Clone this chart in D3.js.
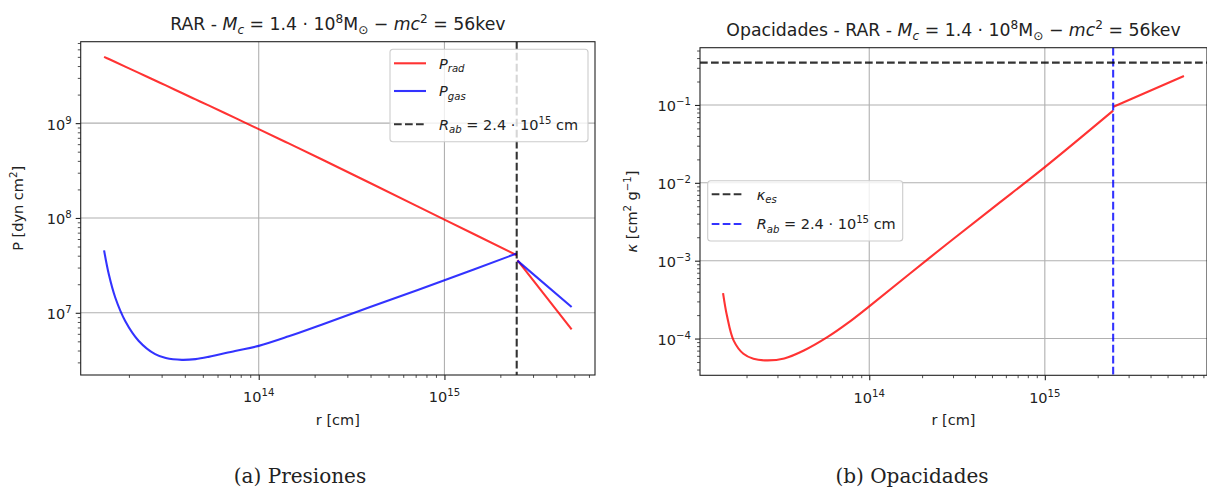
<!DOCTYPE html>
<html>
<head>
<meta charset="utf-8">
<script src="https://cdn.jsdelivr.net/npm/d3@7"></script>
<style>
  body { margin: 0; background: #fff; }
  svg { display: block; font-family: "DejaVu Sans", sans-serif; }
  text { white-space: pre; fill: #222; }
</style>
</head>
<body>
<svg id="fig" width="1207" height="494"></svg>
<script>
// --- datos ---
// radio [cm] para las presiones
const rPres = [1.47e13, 1.56e13, 1.69e13, 1.91e13, 2.26e13, 2.77e13, 3.16e13, 3.86e13, 4.57e13,
               5.37e13, 7.46e13, 1e14, 1.45e14, 2.18e14, 3.98e14, 1e15, 2.45e15, 2.47e15, 4.84e15];
const pRad  = [5.0e9, 4.74e9, 4.41e9, 3.94e9, 3.39e9, 2.82e9, 2.5e9, 2.08e9, 1.78e9,
               1.54e9, 1.135e9, 8.65e8, 6.11e8, 4.16e8, 2.34e8, 9.6e7, 4.05e7, 3.6e7, 6.7e6];
const pGas  = [4.55e7, 2.53e7, 1.44e7, 8.2e6, 5.05e6, 3.66e6, 3.33e6, 3.19e6, 3.25e6,
               3.43e6, 3.96e6, 4.48e6, 5.65e6, 7.5e6, 1.15e7, 2.2e7, 4.22e7, 3.55e7, 1.15e7];

// radio [cm] para la opacidad
const rOpac = [1.47e13, 1.55e13, 1.69e13, 1.92e13, 2.19e13, 2.64e13, 3.28e13, 4.27e13,
               5.8e13, 7.6e13, 1e14, 2.24e14, 5.0e14, 1e15, 2.45e15, 2.46e15, 6.2e15];
const kappa = [3.84e-4, 1.93e-4, 9.4e-5, 6.37e-5, 5.5e-5, 5.24e-5, 5.55e-5, 7.08e-5,
               1.05e-4, 1.6e-4, 2.59e-4, 1.12e-3, 4.67e-3, 1.59e-2, 8.45e-2, 9.5e-2, 0.235];

const kappaEs = 0.35;
const rAb = 2.45e15;

const presTicksX = [1e14, 1e15];
const presTicksY = [1e7, 1e8, 1e9];
const opacTicksX = [1e14, 1e15];
const opacTicksY = [1e-4, 1e-3, 1e-2, 1e-1];

const RED = "rgba(255,0,0,0.8)";
const BLUE = "rgba(0,0,255,0.8)";
const DARK = "rgba(0,0,0,0.8)";
const FS = 14.5;

const svg = d3.select("#fig");

// dominio log con 5% de margen, como matplotlib
function logPad(vals) {
  const lo = Math.log10(d3.min(vals)), hi = Math.log10(d3.max(vals));
  const m = (hi - lo) * 0.05;
  return [Math.pow(10, lo - m), Math.pow(10, hi + m)];
}

function minorTicks(domain) {
  const out = [];
  const d0 = Math.floor(Math.log10(domain[0])), d1 = Math.ceil(Math.log10(domain[1]));
  for (let d = d0; d <= d1; d++) {
    for (let k = 2; k <= 9; k++) {
      const v = k * Math.pow(10, d);
      if (v >= domain[0] && v <= domain[1]) out.push(v);
    }
  }
  return out;
}

// texto con sub/superindices: parts = [{t, i, s}]
function rich(sel, parts, size) {
  let cur = 0;
  parts.forEach(p => {
    const target = p.s === "sup" ? -size * 0.42 : p.s === "sub" ? size * 0.22 : 0;
    sel.append("tspan")
      .attr("dy", (target - cur).toFixed(2))
      .attr("font-size", p.s ? size * 0.7 : size)
      .attr("font-style", p.i ? "italic" : null)
      .text(p.t);
    cur = target;
  });
  return sel;
}

function pow10(v) {
  return [{t: "10"}, {t: String(Math.round(Math.log10(v))).replace("-", "\u2212"), s: "sup"}];
}

function panel(opt) {
  const {left, right, top, bottom} = opt.box;
  const w = right - left, h = bottom - top;
  const g = svg.append("g").attr("transform", `translate(${left},${top})`);

  const x = d3.scaleLog().domain(opt.xDomain).range([0, w]);
  const y = d3.scaleLog().domain(opt.yDomain).range([h, 0]);

  // rejilla
  g.append("g").selectAll("line").data(opt.xTicks).join("line")
    .attr("x1", d => x(d)).attr("x2", d => x(d)).attr("y1", 0).attr("y2", h)
    .attr("stroke", "#b0b0b0").attr("stroke-width", 1.1);
  g.append("g").selectAll("line").data(opt.yTicks).join("line")
    .attr("y1", d => y(d)).attr("y2", d => y(d)).attr("x1", 0).attr("x2", w)
    .attr("stroke", "#b0b0b0").attr("stroke-width", 1.1);

  // curvas (partidas en R_ab) y lineas de referencia
  const clip = "clip-" + opt.id;
  g.append("clipPath").attr("id", clip).append("rect").attr("width", w).attr("height", h);
  const plot = g.append("g").attr("clip-path", `url(#${clip})`);
  const line = d3.line().x(d => x(d[0])).y(d => y(d[1])).curve(d3.curveCatmullRom.alpha(0.5));
  opt.series.forEach(s => {
    const pts = d3.zip(s.x, s.y);
    const segs = [pts.filter(d => d[0] <= rAb), pts.filter(d => d[0] > rAb)];
    const path = segs.map(seg => line(seg)).join("");
    plot.append("path").attr("d", path).attr("fill", "none")
      .attr("stroke", s.color).attr("stroke-width", 2.1)
      .attr("stroke-linejoin", "round");
  });
  (opt.vlines || []).forEach(v => {
    plot.append("line").attr("x1", x(v.x)).attr("x2", x(v.x)).attr("y1", 0).attr("y2", h)
      .attr("stroke", v.color).attr("stroke-width", 2.1).attr("stroke-dasharray", "7.7,3.3");
  });
  (opt.hlines || []).forEach(v => {
    plot.append("line").attr("y1", y(v.y)).attr("y2", y(v.y)).attr("x1", 0).attr("x2", w)
      .attr("stroke", v.color).attr("stroke-width", 2.1).attr("stroke-dasharray", "7.7,3.3");
  });

  // ejes
  const styleAxis = a => {
    a.select(".domain").remove();
    a.selectAll("line").attr("stroke", "#222");
  };
  g.append("g").attr("transform", `translate(0,${h})`)
    .call(d3.axisBottom(x).tickValues(opt.xTicks).tickSize(5).tickFormat(""))
    .call(styleAxis).selectAll("line").attr("stroke-width", 1.1);
  g.append("g").attr("transform", `translate(0,${h})`)
    .call(d3.axisBottom(x).tickValues(minorTicks(opt.xDomain)).tickSize(2.9).tickFormat(""))
    .call(styleAxis).selectAll("line").attr("stroke-width", 0.8);
  g.append("g")
    .call(d3.axisLeft(y).tickValues(opt.yTicks).tickSize(5).tickFormat(""))
    .call(styleAxis).selectAll("line").attr("stroke-width", 1.1);
  g.append("g")
    .call(d3.axisLeft(y).tickValues(minorTicks(opt.yDomain)).tickSize(2.9).tickFormat(""))
    .call(styleAxis).selectAll("line").attr("stroke-width", 0.8);

  g.append("rect").attr("width", w).attr("height", h)
    .attr("fill", "none").attr("stroke", "#222").attr("stroke-width", 1.1);

  // etiquetas de ticks
  opt.xTicks.forEach(v => {
    rich(g.append("text").attr("x", x(v)).attr("y", h + 27.5).attr("text-anchor", "middle"),
      pow10(v), FS);
  });
  opt.yTicks.forEach(v => {
    rich(g.append("text").attr("x", -9).attr("y", y(v) + 6.5).attr("text-anchor", "end"),
      pow10(v), FS);
  });

  // titulos de ejes
  g.append("text").attr("x", w / 2).attr("y", h + 50).attr("text-anchor", "middle")
    .attr("font-size", FS).text("r [cm]");
  rich(g.append("text").attr("transform", `translate(${opt.yLabelX - left},${h / 2}) rotate(-90)`)
    .attr("text-anchor", "middle"), opt.yLabel, FS);

  // titulo
  rich(g.append("text").attr("x", w / 2).attr("y", -11.7).attr("text-anchor", "middle"),
    opt.title, 17.3);

  // leyenda
  const L = opt.legend;
  const lg = g.append("g").attr("transform", `translate(${L.x - left},${L.y - top})`);
  lg.append("rect").attr("width", L.w).attr("height", L.h).attr("rx", 3)
    .attr("fill", "rgba(255,255,255,0.8)").attr("stroke", "#cccccc").attr("stroke-width", 1.1);
  L.items.forEach(it => {
    lg.append("line").attr("x1", 4).attr("x2", 36).attr("y1", it.dy).attr("y2", it.dy)
      .attr("stroke", it.color).attr("stroke-width", 2.1)
      .attr("stroke-dasharray", it.dash ? "7.7,3.3" : null);
    rich(lg.append("text").attr("x", 49).attr("y", it.dy + 5.5), it.label, FS);
  });
  return g;
}

const titleTail = [
  {t: "M", i: true}, {t: "c", i: true, s: "sub"}, {t: " = 1.4 \u00b7 10"}, {t: "8", s: "sup"},
  {t: "M"}, {t: "\u2299", s: "sub"}, {t: " \u2212 "}, {t: "mc", i: true}, {t: "2", s: "sup"},
  {t: " = 56kev"}
];
const rabLabel = [{t: "R", i: true}, {t: "ab", i: true, s: "sub"}, {t: " = 2.4 \u00b7 10"},
  {t: "15", s: "sup"}, {t: " cm"}];

panel({
  id: "pres",
  box: {left: 80.7, right: 595, top: 41.7, bottom: 375},
  xDomain: logPad(rPres),
  yDomain: logPad(pRad.concat(pGas)),
  xTicks: presTicksX, yTicks: presTicksY,
  series: [
    {x: rPres, y: pRad, color: RED},
    {x: rPres, y: pGas, color: BLUE}
  ],
  vlines: [{x: rAb, color: DARK}],
  title: [{t: "RAR - "}].concat(titleTail),
  yLabel: [{t: "P [dyn cm"}, {t: "2", s: "sup"}, {t: "]"}],
  yLabelX: 23,
  legend: {x: 390, y: 49.3, w: 198, h: 92.5, items: [
    {dy: 14, color: RED, label: [{t: "P", i: true}, {t: "rad", i: true, s: "sub"}]},
    {dy: 41.7, color: BLUE, label: [{t: "P", i: true}, {t: "gas", i: true, s: "sub"}]},
    {dy: 75, color: DARK, dash: true, label: rabLabel}
  ]}
});

panel({
  id: "opac",
  box: {left: 700, right: 1207, top: 47.7, bottom: 375.3},
  xDomain: logPad(rOpac),
  yDomain: logPad(kappa.concat([kappaEs])),
  xTicks: opacTicksX, yTicks: opacTicksY,
  series: [{x: rOpac, y: kappa, color: RED}],
  vlines: [{x: rAb, color: BLUE}],
  hlines: [{y: kappaEs, color: DARK}],
  title: [{t: "Opacidades - RAR - "}].concat(titleTail),
  yLabel: [{t: "\u03ba", i: true}, {t: " [cm"}, {t: "2", s: "sup"}, {t: " g"}, {t: "\u22121", s: "sup"}, {t: "]"}],
  yLabelX: 637,
  legend: {x: 707.7, y: 180.7, w: 195, h: 60.3, items: [
    {dy: 13.6, color: DARK, dash: true, label: [{t: "\u03ba", i: true}, {t: "es", i: true, s: "sub"}]},
    {dy: 43.3, color: BLUE, dash: true, label: rabLabel}
  ]}
});

// subtitulos de la figura
const captions = [{x: 300, t: "(a) Presiones"}, {x: 912, t: "(b) Opacidades"}];
svg.selectAll("text.cap").data(captions).join("text")
  .attr("class", "cap")
  .attr("x", d => d.x).attr("y", 483)
  .attr("text-anchor", "middle")
  .attr("font-family", "'DejaVu Serif', serif")
  .attr("font-size", 20)
  .text(d => d.t);
</script>
</body>
</html>
